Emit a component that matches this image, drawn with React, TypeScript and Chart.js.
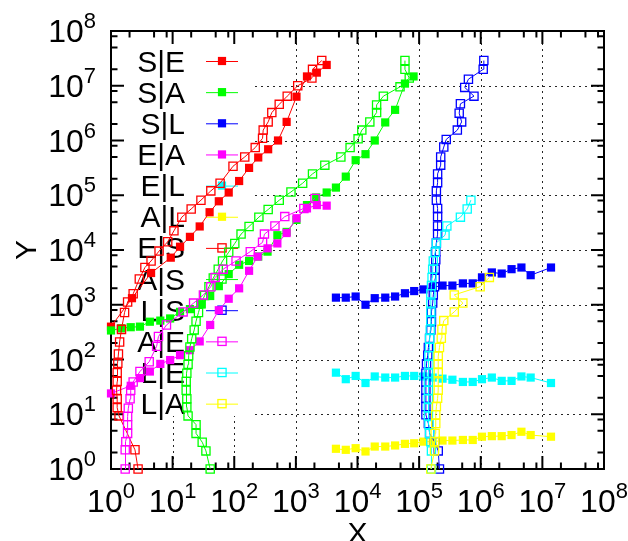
import React, { useEffect, useRef } from "react";
import { Chart, registerables } from "chart.js";

Chart.register(...registerables);

// ---------- data ----------
const seX = [1, 2.19, 4.47, 9.33, 13.2, 19.1, 27.5, 39.8, 56.2, 81.3, 120, 174, 245, 355, 513, 708, 1023, 1514, 2188, 3162];
const seY = [398, 1318, 3802, 7244, 11480, 17380, 26920, 48980, 77620, 112200, 182000, 316200, 489800, 691800, 1000000, 2188000, 6310000, 14790000, 17380000, 23990000];

const saX = [1, 1.45, 2.09, 2.95, 4.27, 6.31, 9.12, 13.2, 19.1, 29.5, 40.7, 56.2, 81.3, 120, 174, 245, 347, 501, 708, 1023, 1514, 2138, 3162, 4467, 6457, 9333, 13490, 19050, 28180, 40740, 58880, 81280];
const saY = [339, 372, 389, 398, 490, 513, 562, 741, 832, 1023, 1445, 2188, 3631, 5370, 6310, 7586, 9333, 18620, 21380, 35480, 66070, 91200, 112200, 138000, 218800, 436500, 562300, 1000000, 2138000, 3631000, 10960000, 14790000];

// shared x positions of the three nearly flat filled series
const flatX = [4467, 6457, 9333, 13490, 19050, 28180, 40740, 58880, 83180, 117500, 166000, 239900, 346700, 512900, 741300, 1047000, 1514000, 2188000, 3162000, 4571000, 6457000, 13800000];
const slY = [1349, 1349, 1413, 1000, 1318, 1349, 1413, 1622, 1778, 1905, 2089, 2239, 2239, 2455, 2455, 3162, 3890, 3715, 4467, 4786, 3467, 4786];
const elY = [57.5, 43.7, 50.1, 37.2, 49.0, 46.8, 46.8, 50.1, 50.1, 49.0, 46.8, 44.7, 42.7, 38.9, 38.9, 43.7, 46.8, 40.7, 40.7, 49.0, 46.8, 37.2];
const alY = [2.34, 2.24, 2.40, 2.09, 2.57, 2.57, 2.69, 2.88, 2.95, 3.16, 3.16, 3.31, 3.31, 3.39, 3.39, 3.89, 3.98, 3.98, 4.17, 4.79, 4.17, 3.89];

const eaX = [1, 2.09, 2.95, 4.27, 6.31, 9.12, 13.2, 19.1, 27.5, 40.7, 56.2, 81.3, 120, 174, 240, 347, 501, 708, 1023, 1514, 2188, 3162];
const eaY = [24.0, 33.1, 45.7, 60.3, 83.2, 97.7, 120, 148, 214, 427, 794, 1288, 1995, 4169, 7586, 10720, 13180, 20420, 38020, 57540, 66070, 64570];

const esX = [2.75, 2.45, 1.35, 1.26, 1.26, 1.23, 1.26, 1.26, 1.29, 1.32, 1.38, 1.48, 1.66, 1.86, 2.29, 2.88, 3.55, 4.47, 6.03, 8.32, 10.5, 14.1, 20.0, 28.8, 41.7, 58.9, 95.5, 148, 219, 288, 295, 355, 407, 537, 724, 1072, 1820, 1862, 2630];
const esY = [1, 2.24, 9.33, 13.2, 19.1, 27.5, 39.8, 57.5, 85.1, 126, 209, 355, 724, 1122, 1585, 2951, 4786, 6310, 9550, 14130, 22390, 39810, 56230, 81280, 120200, 166000, 338800, 501200, 741300, 1096000, 1549000, 2188000, 3236000, 4571000, 6457000, 10000000, 13800000, 19950000, 28840000];

const asX = [40.7, 34.7, 30.2, 24.0, 24.0, 17.8, 17.0, 17.0, 16.6, 16.6, 17.0, 17.8, 18.2, 19.1, 20.4, 22.4, 24.0, 26.3, 28.8, 33.1, 38.9, 45.7, 55.0, 64.6, 81.3, 102, 129, 174, 251, 355, 537, 832, 1288, 1862, 2951, 5370, 7586, 10230, 11750, 15850, 20420, 20420, 26300, 48980, 69180, 58880, 58880];
const asY = [1, 2.14, 3.09, 4.47, 6.46, 9.33, 13.5, 19.1, 27.5, 39.8, 56.2, 81.3, 117, 170, 240, 347, 501, 724, 1047, 1479, 2138, 3090, 4467, 6310, 9120, 13180, 19500, 26920, 39810, 54950, 81280, 114800, 166000, 245500, 354800, 501200, 741300, 1072000, 1549000, 2188000, 3236000, 4467000, 6457000, 9550000, 13800000, 19950000, 28840000];

const lsX = [213800, 204200, 177800, 147900, 141300, 128800, 128800, 128800, 128800, 128800, 128800, 131800, 138000, 141300, 147900, 154900, 158500, 158500, 166000, 169800, 177800, 182000, 182000, 186200, 186200, 190500, 199500, 199500, 199500, 199500, 190500, 190500, 199500, 199500, 223900, 223900, 251200, 275400, 416900, 489800, 446700, 467700, 776200, 549500, 631000, 1096000, 1122000];
const lsY = [1, 2.14, 3.16, 4.47, 6.76, 9.77, 13.8, 19.5, 27.5, 38.9, 56.2, 83.2, 120, 166, 245, 347, 490, 741, 1072, 1514, 2138, 3020, 4467, 6607, 9333, 13490, 19500, 27540, 40740, 57540, 81280, 120200, 169800, 245500, 354800, 501200, 758600, 1047000, 1549000, 2188000, 3162000, 4677000, 6457000, 9333000, 13180000, 19950000, 28840000];

const aeX = [1.70, 1.70, 1.74, 1.86, 1.86, 1.86, 1.91, 2.04, 2.09, 2.29, 2.95, 4.17, 5.50, 5.89, 7.94, 14.8, 21.9, 31.6, 41.7, 49.0, 66.1, 107, 182, 288, 309, 457, 661, 1349, 2042];
const aeY = [1, 2.24, 3.16, 4.47, 6.46, 9.12, 12.9, 19.1, 27.5, 38.9, 60.3, 91.2, 174, 263, 427, 741, 1072, 1514, 2138, 3162, 4467, 6310, 9333, 13800, 19500, 27540, 40740, 57540, 87100];

const leX = [158500, 158500, 154900, 147900, 144500, 141300, 141300, 141300, 141300, 141300, 141300, 144500, 144500, 147900, 147900, 151400, 154900, 154900, 154900, 154900, 158500, 162200, 166000, 169800, 182000, 190500, 263000, 281800, 467700, 602600, 691800];
const leY = [1, 2.14, 3.16, 4.47, 6.46, 9.33, 13.2, 19.1, 27.5, 38.9, 56.2, 81.3, 117, 166, 240, 347, 513, 741, 1072, 1585, 2239, 3162, 4467, 6310, 9120, 13490, 18620, 27540, 39810, 56230, 81280];

const laX = [154900, 177800, 177800, 182000, 186200, 186200, 190500, 199500, 204200, 204200, 204200, 204200, 204200, 213800, 229100, 234400, 251200, 371500, 512900, 371500, 977200, 1380000];
const laY = [1, 2.14, 3.16, 4.47, 6.76, 9.77, 13.8, 19.5, 27.5, 38.9, 57.5, 83.2, 115, 166, 245, 355, 513, 741, 1072, 1514, 2138, 3162];

const legendLabels = ["S|E", "S|A", "S|L", "E|A", "E|L", "A|L", "E|S", "A|S", "L|S", "A|E", "L|E", "L|A"];
const seriesColors = ["#ff0000", "#00ff00", "#0000ff", "#ff00ff", "#00ffff", "#ffff00", "#ff0000", "#00ff00", "#0000ff", "#ff00ff", "#00ffff", "#ffff00"];
const seriesFilled = [true, true, true, true, true, true, false, false, false, false, false, false];
const seriesX = [seX, saX, flatX, eaX, flatX, flatX, esX, asX, lsX, aeX, leX, laX];
const seriesY = [seY, saY, slY, eaY, elY, alY, esY, asY, lsY, aeY, leY, laY];

const axisExponents = [0, 1, 2, 3, 4, 5, 6, 7, 8];
const minorMultipliers = [2, 5, 8];

const FONT = "'Liberation Sans', Arial, Helvetica, sans-serif";
const FILLED_R = 5.8;
const OPEN_R = 5.8;

function drawSquare(ctx: CanvasRenderingContext2D, x: number, y: number, filled: boolean, color: string) {
  if (filled) {
    const s = FILLED_R * Math.SQRT1_2;
    ctx.fillStyle = color;
    ctx.fillRect(x - s, y - s, 2 * s, 2 * s);
  } else {
    const s = OPEN_R * Math.SQRT1_2;
    ctx.strokeStyle = color;
    ctx.lineWidth = 1.3;
    ctx.strokeRect(x - s, y - s, 2 * s, 2 * s);
  }
}

function drawPow(ctx: CanvasRenderingContext2D, exp: number, x: number, baseline: number, align: "center" | "right") {
  ctx.font = `32px ${FONT}`;
  const wBase = ctx.measureText("10").width;
  ctx.font = `22px ${FONT}`;
  const e = String(exp);
  const wExp = ctx.measureText(e).width;
  const total = wBase + wExp;
  const start = align === "center" ? x - total / 2 : x - total;
  ctx.textAlign = "left";
  ctx.textBaseline = "alphabetic";
  ctx.font = `32px ${FONT}`;
  ctx.fillText("10", start, baseline);
  ctx.font = `22px ${FONT}`;
  ctx.fillText(e, start + wBase, baseline - 14);
}

const framePlugin = {
  id: "gnuplotFrame",
  beforeDatasetsDraw(chart: any) {
    const ctx: CanvasRenderingContext2D = chart.ctx;
    const xs = chart.scales.x;
    const ys = chart.scales.y;
    const { left, right, top, bottom } = chart.chartArea;
    ctx.save();

    // dotted grid
    ctx.strokeStyle = "rgba(0,0,0,0.85)";
    ctx.lineWidth = 1;
    ctx.setLineDash([2, 4]);
    for (const e of axisExponents) {
      if (e === 0 || e === 8) continue;
      const px = Math.round(xs.getPixelForValue(Math.pow(10, e))) + 0.5;
      ctx.beginPath();
      ctx.moveTo(px, top);
      ctx.lineTo(px, bottom);
      ctx.stroke();
      const py = Math.round(ys.getPixelForValue(Math.pow(10, e))) + 0.5;
      ctx.beginPath();
      ctx.moveTo(left, py);
      ctx.lineTo(right, py);
      ctx.stroke();
    }
    ctx.setLineDash([]);

    // opaque key box
    ctx.fillStyle = "#ffffff";
    ctx.fillRect(left, top, 141, 385);

    // key entries
    const rowY0 = top + 30;
    const rowStep = 31.15;
    legendLabels.forEach((lab, i) => {
      const y = rowY0 + i * rowStep;
      ctx.fillStyle = "#000";
      ctx.font = `30px ${FONT}`;
      ctx.textAlign = "right";
      ctx.textBaseline = "alphabetic";
      ctx.fillText(lab, left + 74, y + 10.5);
      ctx.strokeStyle = seriesColors[i];
      ctx.lineWidth = 1;
      ctx.beginPath();
      ctx.moveTo(left + 95, y + 0.5);
      ctx.lineTo(left + 127, y + 0.5);
      ctx.stroke();
      drawSquare(ctx, left + 111, y, seriesFilled[i], seriesColors[i]);
    });

    // border
    ctx.strokeStyle = "#000";
    ctx.lineWidth = 2;
    ctx.strokeRect(left, top, right - left, bottom - top);

    // tick marks (all four sides)
    const major = 13;
    const minor = 6.5;
    ctx.lineWidth = 2;
    ctx.beginPath();
    for (const e of axisExponents) {
      const v = Math.pow(10, e);
      const px = xs.getPixelForValue(v);
      const py = ys.getPixelForValue(v);
      ctx.moveTo(px, bottom); ctx.lineTo(px, bottom - major);
      ctx.moveTo(px, top); ctx.lineTo(px, top + major);
      ctx.moveTo(left, py); ctx.lineTo(left + major, py);
      ctx.moveTo(right, py); ctx.lineTo(right - major, py);
      if (e < 8) {
        for (const m of minorMultipliers) {
          const qx = xs.getPixelForValue(v * m);
          const qy = ys.getPixelForValue(v * m);
          ctx.moveTo(qx, bottom); ctx.lineTo(qx, bottom - minor);
          ctx.moveTo(qx, top); ctx.lineTo(qx, top + minor);
          ctx.moveTo(left, qy); ctx.lineTo(left + minor, qy);
          ctx.moveTo(right, qy); ctx.lineTo(right - minor, qy);
        }
      }
    }
    ctx.stroke();

    // tick labels
    ctx.fillStyle = "#000";
    for (const e of axisExponents) {
      const v = Math.pow(10, e);
      drawPow(ctx, e, xs.getPixelForValue(v), bottom + 43, "center");
      drawPow(ctx, e, left - 15, ys.getPixelForValue(v) + 11, "right");
    }

    // axis titles
    ctx.font = `30px ${FONT}`;
    ctx.textAlign = "center";
    ctx.textBaseline = "alphabetic";
    ctx.fillText("X", (left + right) / 2, bottom + 74);
    ctx.save();
    ctx.translate(36, (top + bottom) / 2);
    ctx.rotate(-Math.PI / 2);
    ctx.fillText("Y", 0, 0);
    ctx.restore();

    ctx.restore();
  },
};

export default function App() {
  const canvasRef = useRef<HTMLCanvasElement | null>(null);

  useEffect(() => {
    document.body.style.margin = "0";
    const canvas = canvasRef.current;
    if (!canvas) return;
    const datasets = legendLabels.map((label, i) => {
      const filled = seriesFilled[i];
      return {
        label,
        data: seriesX[i].map((x, k) => ({ x, y: seriesY[i][k] })),
        borderColor: seriesColors[i],
        backgroundColor: filled ? seriesColors[i] : "rgba(0,0,0,0)",
        pointBackgroundColor: filled ? seriesColors[i] : "rgba(0,0,0,0)",
        pointBorderColor: seriesColors[i],
        pointBorderWidth: filled ? 0 : 1.3,
        pointStyle: "rect",
        pointRadius: filled ? FILLED_R : OPEN_R,
        borderWidth: 1,
        showLine: true,
        fill: false,
        tension: 0,
        clip: false,
        order: legendLabels.length - i,
      };
    });
    const chart = new Chart(canvas, {
      type: "scatter",
      data: { datasets } as any,
      options: {
        animation: false,
        responsive: false,
        devicePixelRatio: 1,
        layout: { padding: { left: 111, right: 24, top: 31, bottom: 72 } },
        plugins: { legend: { display: false }, tooltip: { enabled: false } },
        scales: {
          x: { type: "logarithmic", min: 1, max: 1e8, display: false },
          y: { type: "logarithmic", min: 1, max: 1e8, display: false },
        },
      } as any,
      plugins: [framePlugin],
    });
    return () => chart.destroy();
  }, []);

  return (
    <div style={{ position: "absolute", left: 0, top: 0, width: 628, height: 541, background: "#fff" }}>
      <canvas ref={canvasRef} width={628} height={541} style={{ width: 628, height: 541, display: "block" }} />
    </div>
  );
}
